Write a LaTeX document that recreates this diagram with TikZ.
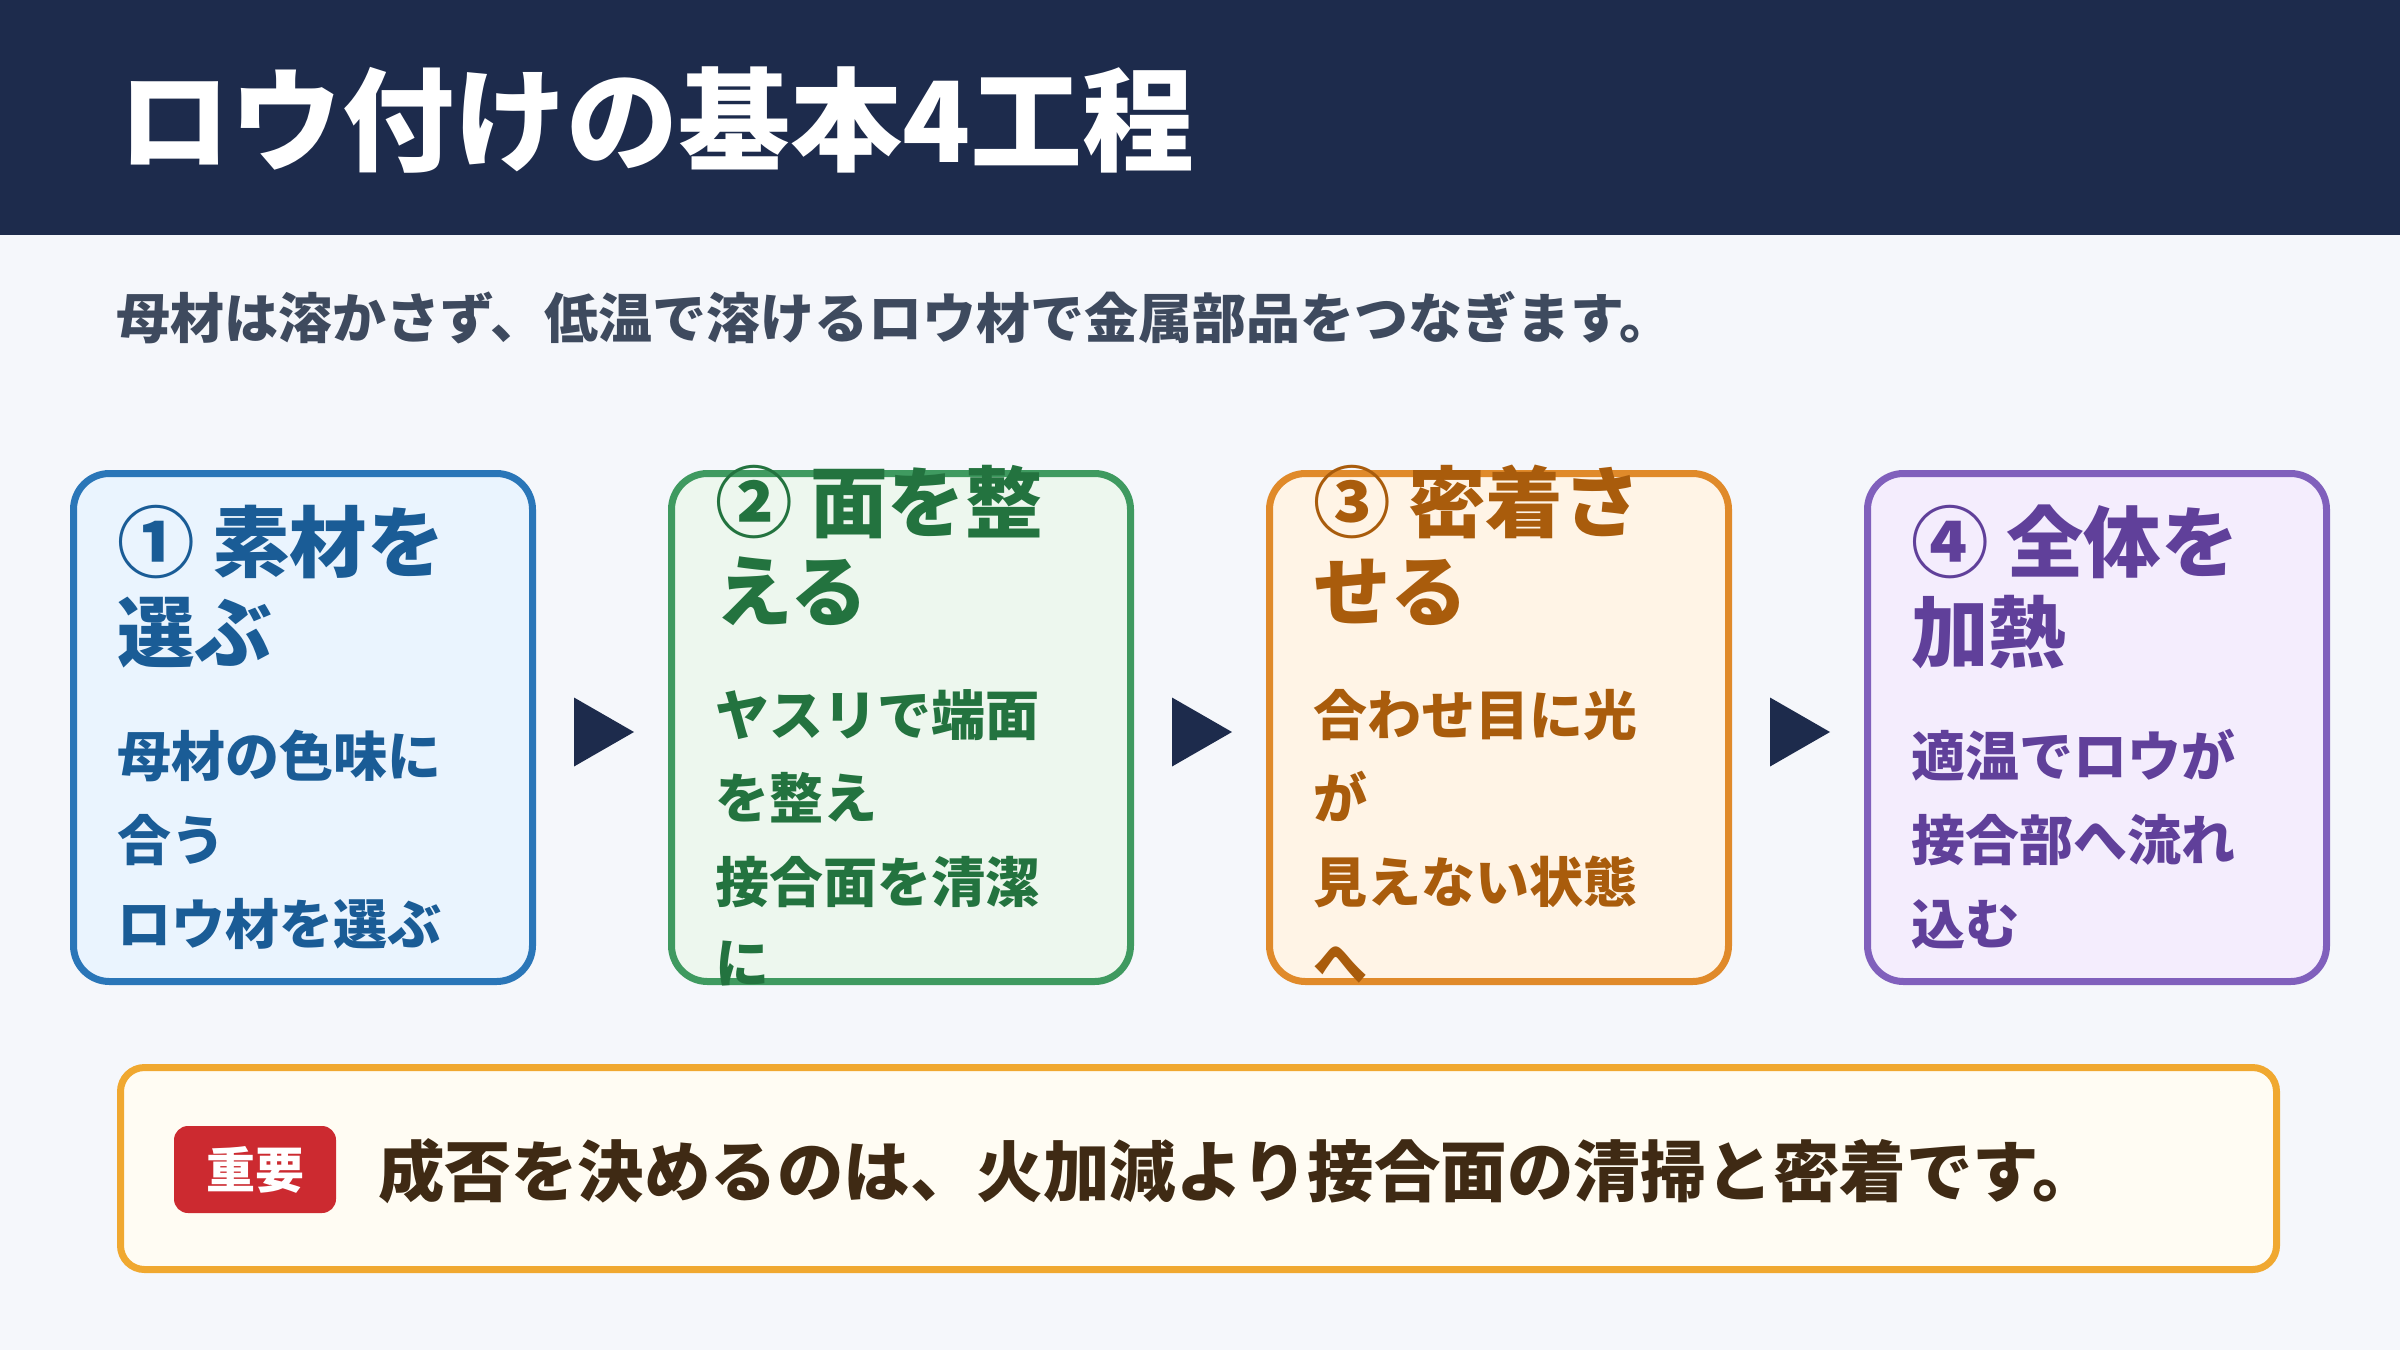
\documentclass[tikz,border=0pt]{standalone}
\usepackage{fontspec}
\setmainfont{Noto Sans CJK JP}
\usetikzlibrary{calc}
\definecolor{bgc}{HTML}{F5F7FB}
\definecolor{navy}{HTML}{1D2B4C}
\definecolor{subc}{HTML}{3E4A5E}
\definecolor{bdA}{HTML}{2A76B8}\definecolor{fillA}{HTML}{EAF4FE}\definecolor{txA}{HTML}{1A5C96}
\definecolor{bdB}{HTML}{3F9A60}\definecolor{fillB}{HTML}{EDF7EE}\definecolor{txB}{HTML}{23733F}
\definecolor{bdC}{HTML}{E08A2A}\definecolor{fillC}{HTML}{FFF4E6}\definecolor{txC}{HTML}{A95C0C}
\definecolor{bdD}{HTML}{8060BC}\definecolor{fillD}{HTML}{F4EDFD}\definecolor{txD}{HTML}{60409A}
\definecolor{noteBd}{HTML}{F0A830}\definecolor{noteFill}{HTML}{FFFCF3}
\definecolor{badgeRed}{HTML}{CC2A30}\definecolor{noteTx}{HTML}{3F2A14}
\begin{document}
\begin{tikzpicture}[x=1pt,y=-1pt,
  txt/.style={inner sep=0pt,anchor=base west,font=\bfseries},
  stepbox/.style={draw=#1,rounded corners=36pt,line width=7pt,minimum width=459pt,minimum height=508pt,inner sep=0pt},
  ttl/.style={txt,text=#1,font=\bfseries\fontsize{77.5}{90}\selectfont},
  bdy/.style={txt,text=#1,font=\bfseries\fontsize{54}{83}\selectfont},
  tri/.style={fill=navy}]
\useasboundingbox (0,0) rectangle (2400,1350);
\fill[bgc] (0,0) rectangle (2400,1350);
\fill[navy] (0,0) rectangle (2400,235);
\node[txt,text=white,font=\bfseries\fontsize{112}{134}\selectfont] (title) at (118,162) {ロウ付けの基本4工程};
\node[txt,text=subc,font=\bfseries\fontsize{54}{64}\selectfont] (sub) at (116,338) {母材は溶かさず、低温で溶けるロウ材で金属部品をつなぎます。};

% boxes
\node[stepbox=bdA,fill=fillA] (b1) at (303,727.5) {};
\node[stepbox=bdB,fill=fillB] (b2) at (901,727.5) {};
\node[stepbox=bdC,fill=fillC] (b3) at (1499,727.5) {};
\node[stepbox=bdD,fill=fillD] (b4) at (2097,727.5) {};

% arrows
\foreach \a/\b/\n in {b1/b2/m1,b2/b3/m2,b3/b4/m3}{
  \coordinate (\n) at ($(\a.east)!0.5!(\b.west)+(0,4.5)$);
  \fill[navy] ($(\n)+(-28,-34.5)$) -- ($(\n)+(-28,34.5)$) -- ($(\n)+(32,0)$) -- cycle;
}

% box 1
\node[ttl=txA] (t1a) at (117,571) {① 素材を};
\node[ttl=txA] (t1b) at (117,661) {選ぶ};
\node[bdy=txA] (d1a) at (117,776) {母材の色味に};
\node[bdy=txA] (d1b) at (117,860) {合う};
\node[bdy=txA] (d1c) at (117,944) {ロウ材を選ぶ};

% box 2
\node[ttl=txB] (t2a) at (715,531) {② 面を整};
\node[ttl=txB] (t2b) at (715,620) {える};
\node[bdy=txB] (d2a) at (715,735) {ヤスリで端面};
\node[bdy=txB] (d2b) at (715,818) {を整え};
\node[bdy=txB] (d2c) at (715,902) {接合面を清潔};
\node[bdy=txB] (d2d) at (715,983) {に};

% box 3
\node[ttl=txC] (t3a) at (1313,531) {③ 密着さ};
\node[ttl=txC] (t3b) at (1313,620) {せる};
\node[bdy=txC] (d3a) at (1313,735) {合わせ目に光};
\node[bdy=txC] (d3b) at (1313,818) {が};
\node[bdy=txC] (d3c) at (1313,902) {見えない状態};
\node[bdy=txC] (d3d) at (1313,983) {へ};

% box 4
\node[ttl=txD] (t4a) at (1911,571) {④ 全体を};
\node[ttl=txD] (t4b) at (1911,661) {加熱};
\node[bdy=txD] (d4a) at (1911,776) {適温でロウが};
\node[bdy=txD] (d4b) at (1911,860) {接合部へ流れ};
\node[bdy=txD] (d4c) at (1911,944) {込む};

% note
\node[draw=noteBd,fill=noteFill,line width=7pt,rounded corners=24pt,minimum width=2156pt,minimum height=202pt,inner sep=0pt] (note) at (1198.5,1168.5) {};
\node[fill=badgeRed,rounded corners=14pt,minimum width=162pt,minimum height=87pt,inner sep=0pt] (badge) at (255,1169.5) {};
\node[text=white,font=\bfseries\fontsize{49}{58}\selectfont,inner sep=0pt] (badgetx) at (badge.center) {重要};
\node[txt,text=noteTx,font=\bfseries\fontsize{66.5}{78}\selectfont] (notetx) at (378,1196) {成否を決めるのは、火加減より接合面の清掃と密着です。};
\end{tikzpicture}
\end{document}
